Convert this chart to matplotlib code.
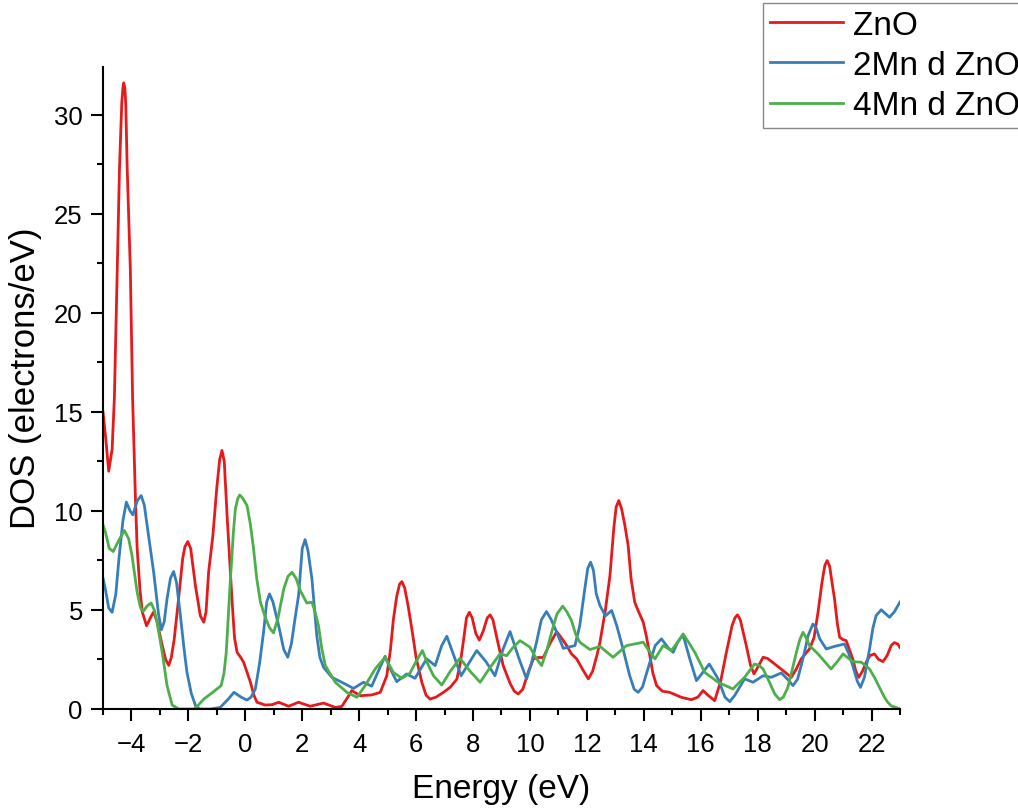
import matplotlib
matplotlib.use("Agg")
import matplotlib.pyplot as plt
from matplotlib.ticker import MultipleLocator

plt.rcParams['font.family'] = ['Liberation Sans', 'DejaVu Sans']

# (energy eV, DOS) pairs
zno = [(-5.0, 15.0), (-4.9, 13.6), (-4.8, 12.0), (-4.68, 13.1), (-4.6, 15.7), (-4.5, 22.2),
       (-4.42, 27.3), (-4.34, 30.6), (-4.3, 31.35), (-4.27, 31.6), (-4.23, 31.3), (-4.2, 30.5),
       (-4.15, 27.3), (-4.04, 22.2), (-3.96, 15.7), (-3.86, 10.6), (-3.8, 8.1), (-3.7, 6.0),
       (-3.62, 4.9), (-3.47, 4.2), (-3.3, 4.7), (-3.22, 4.9), (-3.1, 4.4), (-2.95, 3.4),
       (-2.8, 2.5), (-2.69, 2.2), (-2.6, 2.6), (-2.5, 3.5), (-2.35, 5.5), (-2.2, 7.6),
       (-2.12, 8.2), (-2.02, 8.45), (-1.92, 8.1), (-1.75, 6.2), (-1.58, 4.7), (-1.46, 4.38),
       (-1.38, 4.9), (-1.29, 6.9), (-1.14, 8.75), (-1.0, 11.2), (-0.9, 12.6), (-0.82, 13.05),
       (-0.74, 12.5), (-0.64, 9.76), (-0.47, 5.56), (-0.38, 3.6), (-0.29, 2.86), (-0.16, 2.6),
       (-0.06, 2.36), (0.18, 1.35), (0.3, 0.7), (0.41, 0.34), (0.7, 0.2), (0.95, 0.22),
       (1.17, 0.34), (1.52, 0.14), (1.87, 0.34), (2.28, 0.14), (2.75, 0.3), (3.16, 0.08),
       (3.39, 0.13), (3.6, 0.6), (3.74, 0.93), (4.04, 0.67), (4.44, 0.71), (4.74, 0.84),
       (4.97, 1.68), (5.1, 3.0), (5.2, 4.5), (5.32, 5.7), (5.42, 6.3), (5.5, 6.43),
       (5.6, 6.1), (5.72, 5.2), (5.85, 4.04), (6.0, 2.6), (6.2, 1.35), (6.35, 0.7),
       (6.49, 0.5), (6.7, 0.6), (6.96, 0.84), (7.2, 1.1), (7.43, 1.5), (7.55, 2.3),
       (7.65, 3.3), (7.77, 4.6), (7.87, 4.88), (7.97, 4.6), (8.1, 3.8), (8.22, 3.48),
       (8.35, 3.9), (8.5, 4.6), (8.6, 4.75), (8.7, 4.5), (8.85, 3.5), (9.06, 2.19),
       (9.3, 1.3), (9.45, 0.9), (9.59, 0.76), (9.75, 1.0), (9.95, 1.9), (10.12, 2.53),
       (10.3, 2.6), (10.47, 2.6), (10.7, 3.3), (10.94, 3.9), (11.1, 3.6), (11.29, 3.2),
       (11.45, 2.8), (11.64, 2.53), (11.85, 2.0), (12.05, 1.52), (12.2, 1.9), (12.35, 2.7),
       (12.46, 3.37), (12.65, 5.0), (12.81, 6.73), (12.95, 9.2), (13.03, 10.2), (13.12, 10.52),
       (13.22, 10.1), (13.33, 9.3), (13.45, 8.25), (13.55, 6.6), (13.68, 5.39), (13.85, 4.8),
       (13.98, 4.38), (14.1, 3.6), (14.21, 2.69), (14.32, 1.8), (14.45, 1.18), (14.65, 0.9),
       (14.91, 0.84), (15.32, 0.59), (15.67, 0.47), (15.9, 0.6), (16.08, 0.93), (16.25, 0.7),
       (16.49, 0.42), (16.7, 1.4), (16.9, 2.86), (17.1, 4.2), (17.2, 4.6), (17.29, 4.75),
       (17.39, 4.5), (17.6, 3.2), (17.75, 2.2), (17.87, 1.77), (18.0, 2.1), (18.19, 2.61),
       (18.35, 2.55), (18.6, 2.27), (18.89, 1.94), (19.18, 1.6), (19.35, 2.0), (19.53, 2.53),
       (19.82, 3.03), (19.98, 3.6), (20.12, 4.88), (20.26, 6.4), (20.36, 7.25), (20.44, 7.49),
       (20.53, 7.2), (20.62, 6.3), (20.7, 5.56), (20.8, 4.3), (20.88, 3.62), (21.0, 3.5),
       (21.11, 3.45), (21.34, 2.53), (21.45, 1.9), (21.55, 1.6), (21.68, 1.9), (21.81, 2.36),
       (21.95, 2.7), (22.1, 2.78), (22.25, 2.5), (22.4, 2.39), (22.55, 2.7), (22.69, 3.2),
       (22.8, 3.35), (22.92, 3.28), (23.0, 3.1)]

mn2 = [(-5.0, 6.6), (-4.91, 6.0), (-4.8, 5.1), (-4.68, 4.88), (-4.55, 5.8), (-4.44, 7.58),
       (-4.3, 9.5), (-4.18, 10.44), (-4.05, 10.0), (-3.95, 9.8), (-3.8, 10.5), (-3.66, 10.77),
       (-3.55, 10.3), (-3.45, 9.26), (-3.22, 6.9), (-3.05, 4.8), (-2.95, 4.0), (-2.85, 4.4),
       (-2.75, 5.56), (-2.63, 6.6), (-2.52, 6.94), (-2.42, 6.4), (-2.28, 4.71), (-2.15, 3.0),
       (-2.05, 1.85), (-1.9, 0.8), (-1.75, 0.17), (-1.6, 0.0), (-1.23, 0.0), (-0.88, 0.08),
       (-0.6, 0.5), (-0.4, 0.84), (-0.15, 0.6), (0.06, 0.45), (0.2, 0.6), (0.35, 1.0),
       (0.5, 2.3), (0.64, 3.87), (0.75, 5.4), (0.85, 5.81), (0.97, 5.4), (1.17, 4.21),
       (1.35, 3.0), (1.49, 2.61), (1.62, 3.3), (1.75, 4.6), (1.87, 5.72), (2.0, 8.1),
       (2.1, 8.55), (2.2, 8.0), (2.34, 6.57), (2.51, 3.7), (2.62, 2.6), (2.75, 2.1),
       (3.04, 1.6), (3.51, 1.26), (3.8, 1.04), (4.15, 1.35), (4.44, 1.15), (4.7, 2.0),
       (4.91, 2.66), (5.1, 2.0), (5.32, 1.38), (5.67, 1.77), (5.96, 1.55), (6.37, 2.53),
       (6.67, 2.19), (6.9, 3.2), (7.08, 3.67), (7.3, 2.8), (7.58, 1.68), (7.85, 2.3),
       (8.13, 2.95), (8.45, 2.4), (8.77, 1.68), (9.05, 3.0), (9.3, 3.91), (9.6, 2.6),
       (9.88, 1.52), (10.05, 2.3), (10.23, 3.37), (10.4, 4.5), (10.58, 4.92), (10.75, 4.5),
       (10.94, 3.87), (11.17, 3.06), (11.58, 3.2), (11.75, 4.21), (11.92, 6.0), (12.03, 7.1),
       (12.13, 7.41), (12.23, 7.0), (12.33, 5.8), (12.46, 5.22), (12.65, 4.7), (12.87, 4.97),
       (13.05, 4.2), (13.27, 3.03), (13.5, 1.7), (13.66, 1.0), (13.8, 0.84), (13.95, 1.1),
       (14.2, 2.3), (14.4, 3.2), (14.62, 3.54), (14.85, 3.1), (15.03, 2.86), (15.2, 3.4),
       (15.38, 3.74), (15.6, 2.6), (15.85, 1.43), (16.05, 1.8), (16.3, 2.27), (16.61, 1.52),
       (16.85, 0.6), (17.02, 0.37), (17.2, 0.7), (17.54, 1.52), (17.84, 1.35), (18.19, 1.68),
       (18.48, 1.6), (18.83, 1.82), (19.05, 1.5), (19.24, 1.18), (19.4, 1.5), (19.53, 2.19),
       (19.65, 2.9), (19.77, 3.7), (19.94, 4.29), (20.05, 4.1), (20.18, 3.54), (20.41, 3.03),
       (20.7, 3.16), (21.05, 3.28), (21.2, 2.8), (21.34, 2.19), (21.5, 1.4), (21.61, 1.09),
       (21.75, 1.6), (21.93, 3.03), (22.05, 4.1), (22.16, 4.71), (22.34, 5.01), (22.5, 4.8),
       (22.63, 4.63), (22.8, 4.9), (23.0, 5.4)]

mn4 = [(-5.0, 9.3), (-4.91, 8.9), (-4.78, 8.1), (-4.64, 7.95), (-4.45, 8.5), (-4.25, 9.01),
       (-4.1, 8.6), (-3.98, 7.74), (-3.8, 5.89), (-3.68, 5.1), (-3.59, 4.92), (-3.45, 5.2),
       (-3.31, 5.35), (-3.2, 5.0), (-3.1, 4.38), (-2.92, 2.86), (-2.75, 1.18), (-2.57, 0.2),
       (-2.34, 0.0), (-1.81, 0.0), (-1.65, 0.2), (-1.46, 0.5), (-1.11, 0.88), (-0.85, 1.18),
       (-0.75, 1.8), (-0.67, 2.86), (-0.53, 6.4), (-0.42, 8.9), (-0.35, 10.1), (-0.27, 10.6),
       (-0.2, 10.8), (-0.1, 10.65), (0.06, 10.27), (0.18, 9.3), (0.29, 8.08), (0.4, 6.6),
       (0.53, 5.39), (0.7, 4.63), (0.85, 4.1), (0.99, 3.84), (1.15, 4.6), (1.35, 6.06),
       (1.5, 6.7), (1.64, 6.9), (1.78, 6.6), (1.93, 5.98), (2.16, 5.35), (2.34, 5.39),
       (2.45, 4.9), (2.57, 4.21), (2.68, 3.1), (2.81, 2.19), (3.16, 1.35), (3.57, 0.84),
       (3.92, 0.59), (4.21, 1.18), (4.56, 2.02), (4.91, 2.61), (5.2, 1.85), (5.5, 1.55),
       (5.78, 1.8), (6.0, 2.4), (6.22, 2.95), (6.4, 2.3), (6.61, 1.68), (6.9, 1.21),
       (7.2, 1.9), (7.54, 2.56), (7.9, 1.9), (8.25, 1.35), (8.6, 2.1), (8.95, 2.78),
       (9.18, 2.69), (9.4, 3.1), (9.65, 3.45), (10.0, 3.12), (10.2, 2.6), (10.41, 2.19),
       (10.6, 3.0), (10.76, 3.87), (10.95, 4.8), (11.15, 5.19), (11.3, 4.9), (11.46, 4.46),
       (11.6, 3.8), (11.75, 3.37), (12.11, 3.0), (12.46, 3.16), (12.92, 2.61), (13.39, 3.2),
       (13.98, 3.37), (14.2, 2.9), (14.39, 2.53), (14.68, 3.2), (14.97, 2.95), (15.2, 3.4),
       (15.38, 3.79), (15.6, 3.3), (15.79, 2.86), (16.14, 1.85), (16.61, 1.35), (17.13, 1.01),
       (17.54, 1.6), (17.89, 2.27), (18.05, 2.2), (18.19, 2.02), (18.36, 1.52), (18.6, 0.76),
       (18.77, 0.47), (18.9, 0.6), (19.06, 1.09), (19.2, 1.9), (19.36, 2.86), (19.48, 3.5),
       (19.59, 3.87), (19.7, 3.6), (19.82, 3.2), (20.12, 2.78), (20.35, 2.4), (20.58, 2.02),
       (20.8, 2.4), (21.0, 2.78), (21.34, 2.39), (21.64, 2.36), (21.93, 2.02), (22.1, 1.6),
       (22.28, 1.09), (22.45, 0.6), (22.57, 0.34), (22.7, 0.15), (22.86, 0.08), (23.0, 0.0)]

labels = ['ZnO', '2Mn d ZnO', '4Mn d ZnO']
colors = ['#E41A1C', '#377EB8', '#4DAF4A']

fig = plt.figure(figsize=(10.18, 8.12), dpi=100)
ax = fig.add_axes([103/1018, 1 - 710/812, (900 - 103)/1018, (710 - 68)/812])

for pts, lab, c in zip([zno, mn2, mn4], labels, colors):
    pts = sorted(pts)
    e = [p[0] for p in pts]
    d = [p[1] for p in pts]
    ax.plot(e, d, color=c, lw=2.0, label=lab, solid_joinstyle='round')

ax.set_xlim(-5, 23)
ax.set_ylim(0, 32.4)
ax.set_xticks(range(-4, 23, 2))
ax.xaxis.set_minor_locator(MultipleLocator(1))
ax.yaxis.set_major_locator(MultipleLocator(5))
ax.yaxis.set_minor_locator(MultipleLocator(2.5))

for s in ['top', 'right']:
    ax.spines[s].set_visible(False)
for s in ['left', 'bottom']:
    ax.spines[s].set_linewidth(1.5)

ax.tick_params(which='major', direction='out', length=8.5, width=1.5, labelsize=18.5)
ax.tick_params(axis='x', which='major', pad=8)
ax.tick_params(axis='y', which='major', pad=6)
ax.tick_params(which='minor', direction='out', length=4.5, width=1.5)

ax.set_xlabel('Energy (eV)', fontsize=24, labelpad=12)
ax.set_ylabel('DOS (electrons/eV)', fontsize=25)
ax.yaxis.set_label_coords(-0.077, 0.517)

leg = fig.legend(loc='upper left', bbox_to_anchor=(763/1018, 808/812),
                 bbox_transform=fig.transFigure, borderaxespad=0, fontsize=24,
                 handlelength=2.2, handletextpad=0.3, labelspacing=0.28,
                 borderpad=0.2, fancybox=False, framealpha=1)
leg.get_frame().set_edgecolor('#888888')
leg.get_frame().set_linewidth(1.0)

fig.savefig('out.png', dpi=100)
